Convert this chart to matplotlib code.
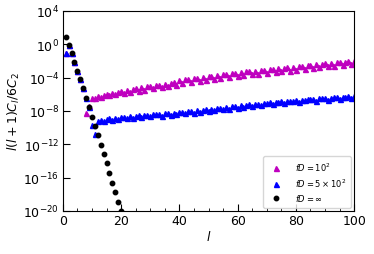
import numpy as np
import matplotlib
matplotlib.use("Agg")
import matplotlib.pyplot as plt
from matplotlib.ticker import FixedLocator, MultipleLocator

# -----------------------------
# Data (log10 of l(l+1)C_l/6C_2)
# -----------------------------
l_all = np.arange(1, 101)
l_inf = np.arange(1, 21)

log_fd100 = [
    -1.00, -0.05, -1.05, -2.10, -3.15, -4.20, -5.30, -8.30, -7.40, -6.40,
    -6.50, -6.25, -6.30, -6.08, -6.02, -6.10, -5.85, -5.95, -5.70, -5.62,
    -5.90, -5.48, -5.78, -5.36, -5.30, -5.62, -5.18, -5.50, -5.05, -4.98,
    -5.30, -4.88, -4.84, -5.18, -4.72, -5.05, -4.60, -4.55, -4.90, -4.30,
    -4.70, -4.22, -4.20, -4.55, -4.08, -4.05, -4.40, -3.95, -4.30, -3.82,
    -3.80, -4.15, -3.70, -4.05, -3.60, -3.56, -3.95, -3.45, -3.42, -3.78,
    -3.32, -3.70, -3.25, -3.22, -3.58, -3.15, -3.52, -3.08, -3.05, -3.40,
    -2.98, -2.95, -3.32, -2.88, -3.25, -2.82, -2.78, -3.15, -2.72, -3.08,
    -2.62, -2.58, -2.95, -2.50, -2.46, -2.85, -2.40, -2.76, -2.34, -2.30,
    -2.66, -2.24, -2.58, -2.18, -2.14, -2.50, -2.08, -2.04, -2.42, -1.98,
]

log_fd500 = [
    -1.00, -0.05, -1.05, -2.10, -3.15, -4.20, -5.30, -6.45, -7.50, -9.65,
    -10.80, -9.20, -9.05, -9.15, -8.95, -8.90, -9.05, -8.82, -8.95, -8.70,
    -8.68, -8.85, -8.62, -8.80, -8.55, -8.52, -8.72, -8.48, -8.45, -8.62,
    -8.40, -8.38, -8.35, -8.55, -8.30, -8.28, -8.45, -8.22, -8.40, -8.15,
    -8.10, -8.30, -8.04, -8.00, -8.20, -7.92, -8.12, -7.84, -7.80, -8.02,
    -7.72, -7.92, -7.64, -7.60, -7.82, -7.52, -7.74, -7.44, -7.40, -7.64,
    -7.32, -7.52, -7.25, -7.22, -7.44, -7.16, -7.12, -7.34, -7.06, -7.02,
    -6.98, -7.20, -6.94, -6.90, -6.86, -7.08, -6.82, -6.78, -6.75, -6.72,
    -6.92, -6.66, -6.63, -6.60, -6.58, -6.55, -6.76, -6.50, -6.48, -6.45,
    -6.64, -6.40, -6.38, -6.35, -6.55, -6.30, -6.28, -6.25, -6.45, -6.20,
]

log_fdinf = [
    0.90, -0.05, -1.05, -2.10, -3.15, -4.20, -5.30, -6.45, -7.55, -8.70,
    -9.80, -10.90, -12.05, -13.20, -14.30, -15.40, -16.60, -17.70, -18.90, -20.00,
]

labels = [r"$fD=10^2$", r"$fD=5\times10^2$", r"$fD=\infty$"]


def main():
    plt.rcParams["font.size"] = 9
    fig = plt.figure(figsize=(3.74, 2.55), dpi=100)
    ax = fig.add_axes([0.168, 0.169, 0.779, 0.784])

    ax.semilogy(l_all, 10.0 ** np.array(log_fd100), "^", color="m",
                ms=3.6, ls="none", label=labels[0])
    ax.semilogy(l_all, 10.0 ** np.array(log_fd500), "^", color="b",
                ms=3.6, ls="none", label=labels[1])
    ax.semilogy(l_inf, 10.0 ** np.array(log_fdinf), "o", color="k",
                ms=3.2, ls="none", label=labels[2])

    ax.set_xlim(0, 100)
    ax.set_ylim(1e-20, 1e4)
    ax.yaxis.set_major_locator(FixedLocator([10.0 ** e for e in range(-20, 5, 4)]))
    ax.yaxis.set_minor_locator(FixedLocator([]))
    ax.xaxis.set_major_locator(MultipleLocator(20))
    ax.xaxis.set_minor_locator(MultipleLocator(5))
    ax.tick_params(which="major", direction="in", length=5, width=0.8, pad=2.5)
    ax.tick_params(which="minor", direction="in", length=2.5, width=0.6)

    ax.set_xlabel(r"$l$", labelpad=1)
    ax.set_ylabel(r"$l(l+1)C_l/6C_2$", labelpad=1)

    ax.legend(loc="lower right", fontsize=6.0, handletextpad=1.2,
              borderpad=0.6, labelspacing=0.35, borderaxespad=0.4)

    fig.savefig("out.png", dpi=100)


if __name__ == "__main__":
    main()
